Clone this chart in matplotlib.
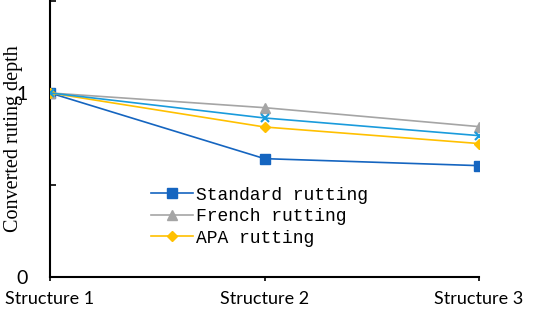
import matplotlib
matplotlib.use("Agg")
import matplotlib.pyplot as plt

# data
structures = ["Structure 1", "Structure 2", "Structure 3"]
standard = [1.0, 0.643, 0.605]
french = [1.0, 0.92, 0.817]
apa = [1.0, 0.815, 0.725]
other = [1.0, 0.864, 0.768]  # unlabeled light-blue series

def main():
    fig = plt.figure(figsize=(5.33, 3.10), dpi=100)
    ax = fig.add_axes([0.0938, 0.1065, 0.805, 0.8905])

    x = range(len(structures))
    ax.plot(x, standard, color="#1565C0", lw=1.2, marker="s", ms=6.5,
            label="Standard rutting", zorder=3)
    ax.plot(x, french, color="#A5A5A5", lw=1.2, marker="^", ms=7,
            label="French rutting", zorder=3)
    ax.plot(x, apa, color="#FFC000", lw=1.2, marker="D", ms=5,
            label="APA rutting", zorder=3)
    ax.plot(x, other, color="#1A9BDC", lw=1.2, marker="x", ms=6, mew=1.5,
            label="_nolegend_", zorder=4)

    ax.set_xlim(0, 2)
    ax.set_ylim(0, 1.5)
    ax.set_xticks(list(x))
    ax.set_xticklabels(structures, fontsize=13, family="Lato")
    ax.set_yticks([0, 0.5, 1, 1.5])
    ax.set_yticklabels(["0", "", "1", ""], fontsize=14, family="Lato")
    ax.tick_params(axis="x", direction="out", length=3, width=1.2, pad=7)
    ax.tick_params(axis="y", direction="in", length=4, width=1.2, pad=16)

    for s in ["top", "right"]:
        ax.spines[s].set_visible(False)
    for s in ["left", "bottom"]:
        ax.spines[s].set_linewidth(1.5)

    ax.set_ylabel("Converted ruting depth", fontsize=14.5, family="Liberation Serif")
    ax.yaxis.set_label_coords(-0.063, 0.5)

    ax.legend(loc="upper left", bbox_to_anchor=(0.215, 0.36), frameon=False,
              prop={"family": "Liberation Mono", "size": 13},
              handlelength=2.3, handletextpad=0.2, labelspacing=0.25,
              borderpad=0)

    fig.savefig("out.png", dpi=100)


if __name__ == "__main__":
    main()
